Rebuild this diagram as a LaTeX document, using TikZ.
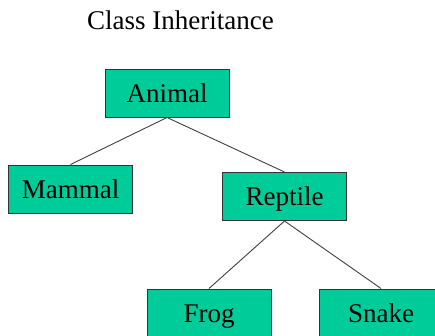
\documentclass[tikz,border=0pt]{standalone}
\usepackage{fontspec}
\setmainfont{Liberation Serif}
\definecolor{boxfill}{HTML}{00CC99}
\definecolor{boxline}{HTML}{333333}
\definecolor{linkline}{HTML}{404040}
\begin{document}
\begin{tikzpicture}[x=1pt,y=-1pt,
  classbox/.style={draw=boxline,fill=boxfill,line width=1pt,
    minimum width=124pt,minimum height=48pt,inner sep=0pt,
    text height=18.3pt,text depth=0pt,font=\fontsize{27}{30}\selectfont},
  link/.style={draw=linkline,line width=0.9pt},
  title/.style={anchor=base,inner sep=0pt,font=\fontsize{27}{30}\selectfont}]
\useasboundingbox (0,0) rectangle (435,335);
\clip (0,0) rectangle (435,335);
\fill[white] (0,0) rectangle (435,335);
\node[title] (ttl) at (180.5,29) {Class Inheritance};
\node[classbox] (animal)  at (167,93)    {Animal};
\node[classbox] (mammal)  at (70.5,189)  {Mammal};
\node[classbox] (reptile) at (284.5,196.5) {Reptile};
\node[classbox] (frog)    at (209,313)   {Frog};
\node[classbox] (snake)   at (381,313)   {Snake};
\draw[link] (animal.south) -- (mammal.north);
\draw[link] (animal.south) -- (reptile.north);
\draw[link] (reptile.south) -- (frog.north);
\draw[link] (reptile.south) -- (snake.north);
\end{tikzpicture}
\end{document}
